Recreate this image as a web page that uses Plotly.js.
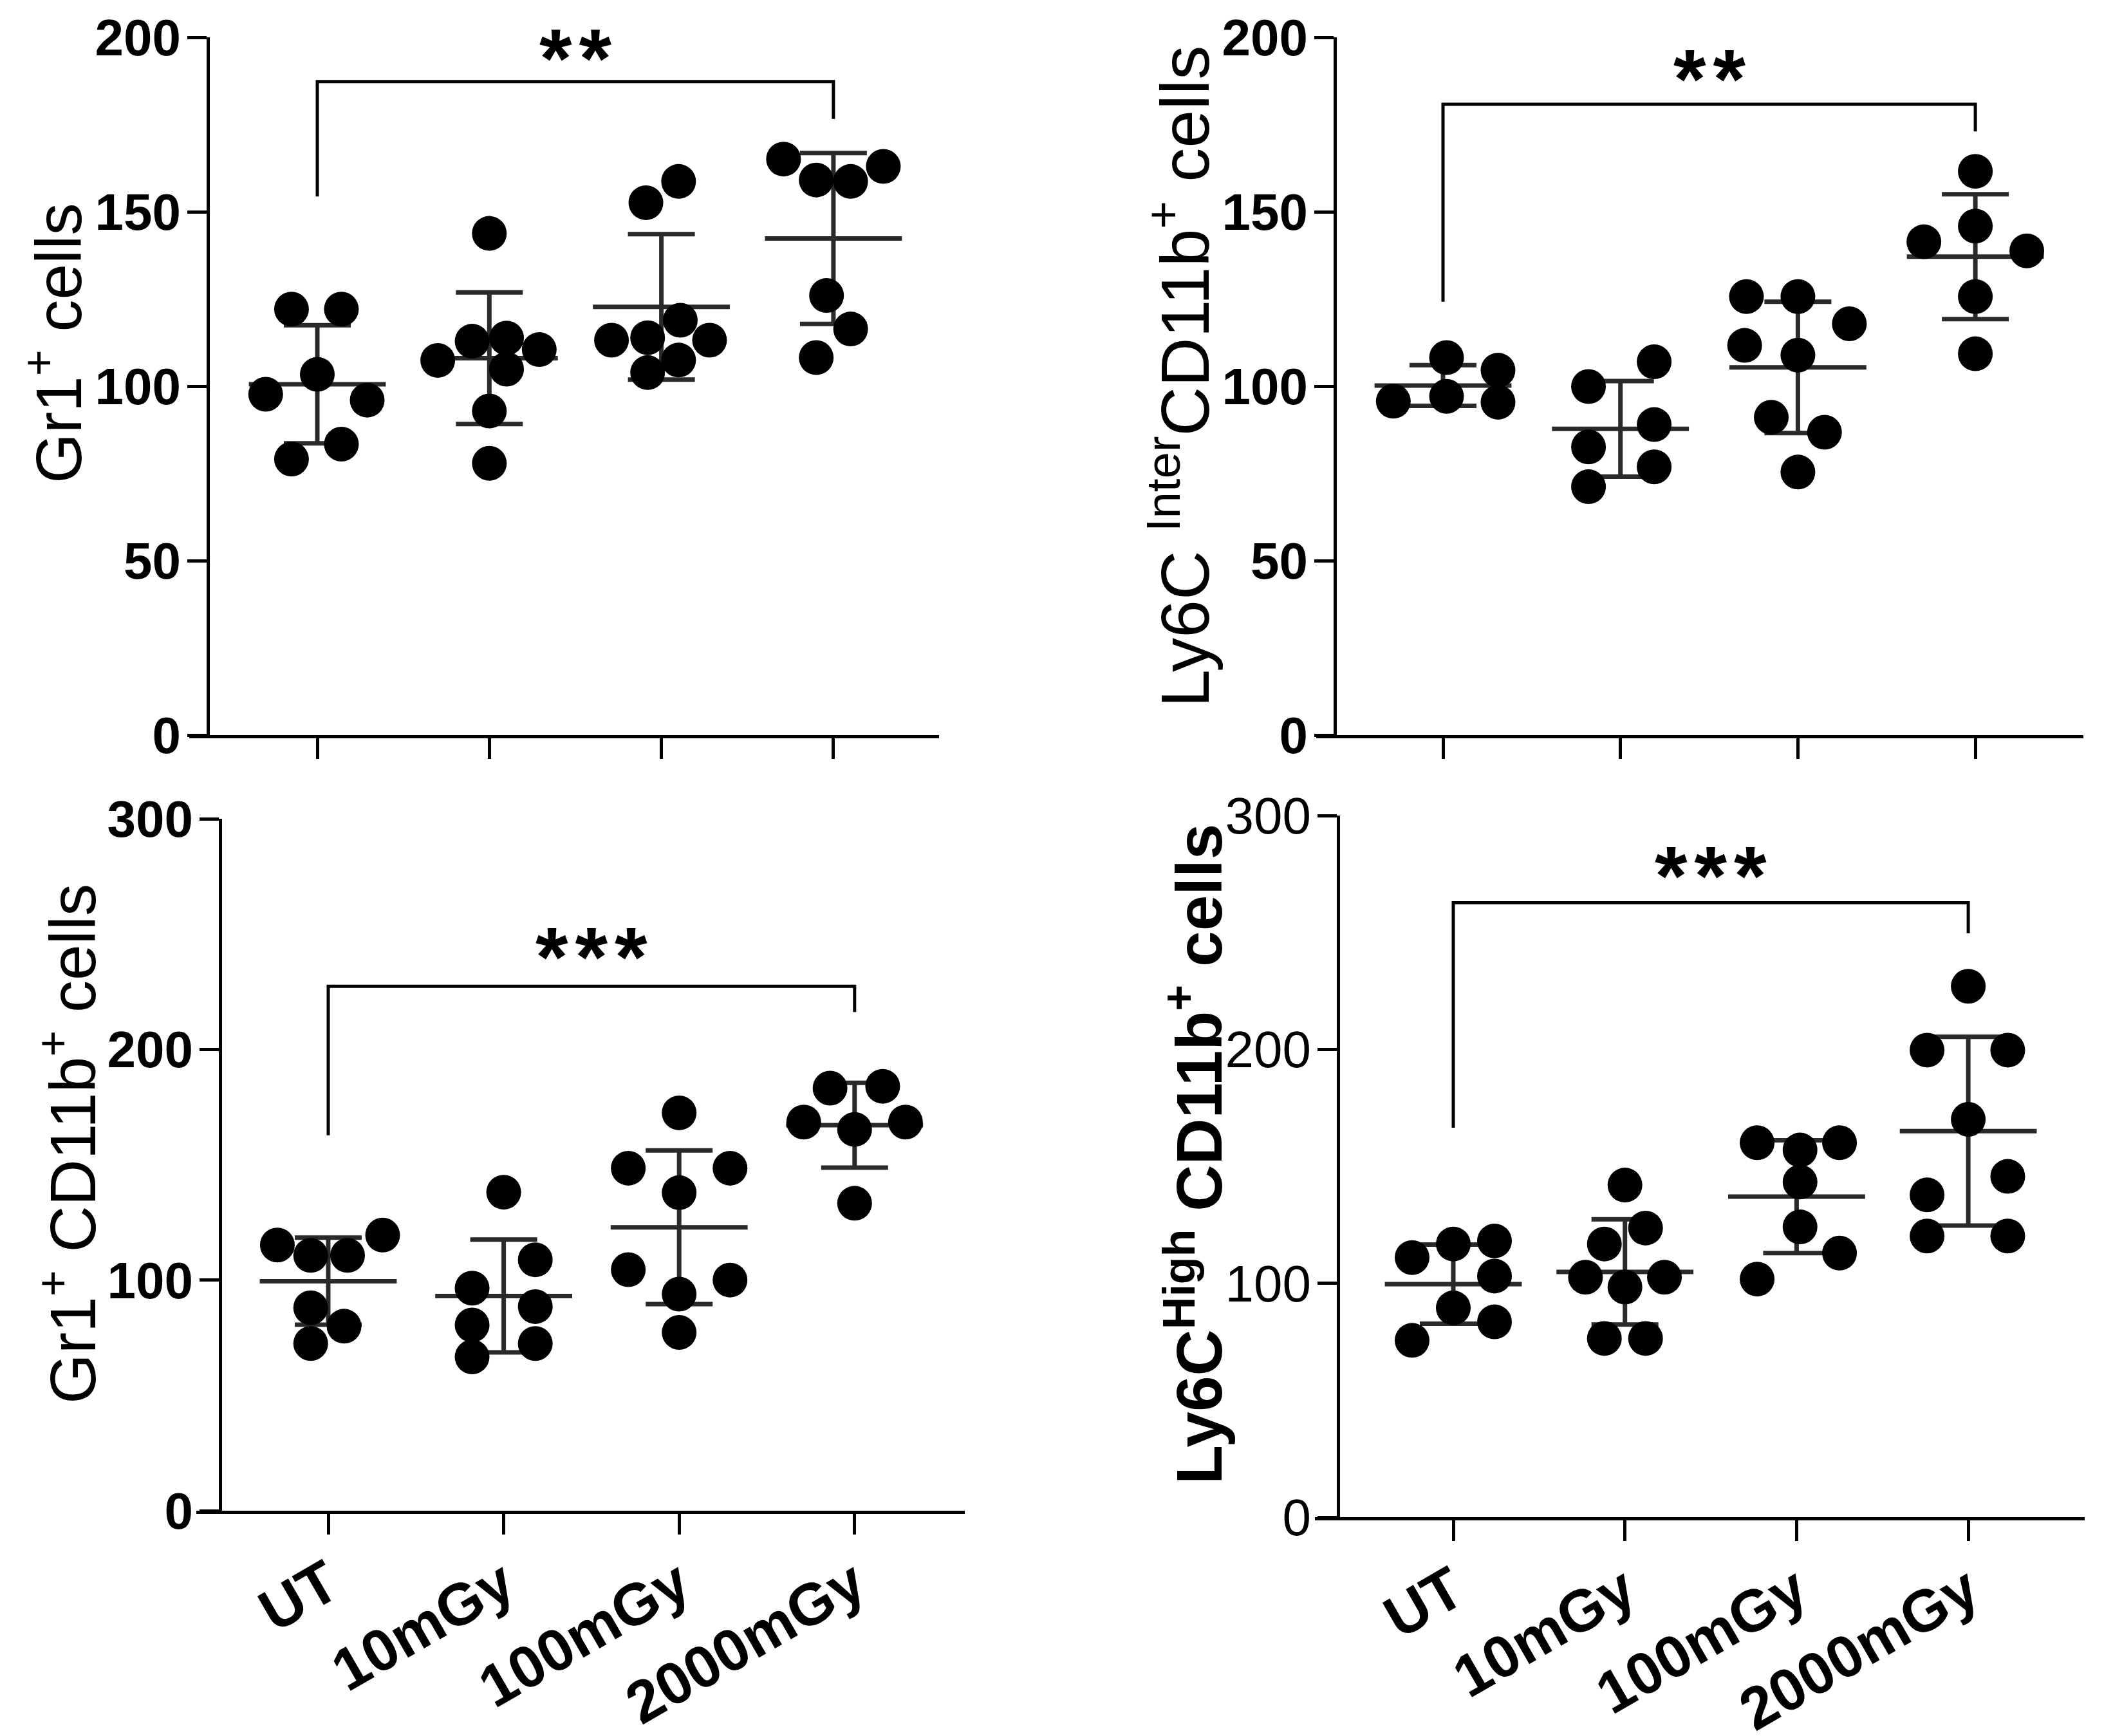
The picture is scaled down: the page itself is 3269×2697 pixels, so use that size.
<!DOCTYPE html>
<html>
<head>
<meta charset="utf-8">
<script src="https://cdn.plot.ly/plotly-3.0.1.min.js"></script>
<style>body{margin:0;background:#fff}</style>
</head>
<body>
<div id="chart" style="width:3269px;height:2697px"></div>
<script>
var groups = ['UT', '10mGy', '100mGy', '2000mGy'];

// Gr1+ cells (top left)
var gr1Values = [
  [122.1, 122.1, 103.4, 97.7, 96.0, 83.4, 79.1],
  [143.8, 112.9, 113.8, 110.5, 107.4, 104.9, 92.9, 77.9],
  [158.7, 152.6, 118.9, 113.2, 113.9, 113.2, 107.5, 103.9],
  [165.1, 163.0, 159.1, 158.7, 126.0, 116.4, 108.2]
];
var gr1Jitter = [
  [-0.15, 0.14, 0, -0.3, 0.29, 0.14, -0.15],
  [0, -0.1, 0.1, 0.29, -0.3, 0.1, 0, 0],
  [0.1, -0.09, 0.11, -0.29, -0.08, 0.28, 0.1, -0.08],
  [-0.29, 0.29, -0.1, 0.1, -0.04, 0.1, -0.1]
];
var gr1Bracket = [154.4, 187.3, 176.6];
var gr1Stars = ['**', 194];

// Ly6C Inter CD11b+ cells (top right)
var interValues = [
  [108.2, 104.6, 95.7, 97.1, 95.4],
  [107.0, 99.9, 89.0, 82.6, 76.9, 71.2],
  [125.7, 125.7, 117.9, 111.7, 108.9, 91.1, 86.8, 75.4],
  [161.6, 145.9, 141.4, 138.8, 125.7, 109.3]
];
var interJitter = [
  [0.02, 0.31, -0.28, 0.02, 0.31],
  [0.19, -0.18, 0.19, -0.18, 0.19, -0.18],
  [-0.29, 0, 0.29, -0.3, 0, -0.15, 0.15, 0],
  [0, 0, -0.29, 0.29, 0, 0]
];
var interBracket = [124.2, 180.8, 173];
var interStars = ['**', 188];

// Gr1+ CD11b+ cells (bottom left)
var gr1cdValues = [
  [119.5, 115.2, 110.7, 110.7, 88.0, 80.0, 72.5],
  [138.1, 108.8, 96.5, 88.5, 80.5, 72.5, 66.7],
  [172.5, 148.5, 148.5, 137.9, 104.5, 100.0, 93.9, 77.3],
  [183.2, 184.0, 168.5, 168.5, 165.3, 133.3]
];
var gr1cdJitter = [
  [0.31, -0.29, -0.1, 0.11, -0.1, 0.09, -0.1],
  [0, 0.18, -0.18, 0.18, -0.18, 0.18, -0.18],
  [0, -0.29, 0.29, 0, -0.29, 0.29, 0, 0],
  [-0.14, 0.16, -0.29, 0.29, 0, 0]
];
var gr1cdBracket = [162.8, 227.4, 216.2];
var gr1cdStars = ['***', 240];

// Ly6C High CD11b+ cells (bottom right)
var highValues = [
  [118.1, 116.8, 111.0, 103.1, 89.5, 83.5, 75.6],
  [142.0, 123.6, 116.8, 102.6, 98.4, 102.6, 76.4, 76.4],
  [160.1, 160.1, 157.0, 143.3, 124.1, 112.9, 101.8],
  [227.0, 199.7, 199.7, 170.1, 145.7, 137.8, 120.2, 120.2]
];
var highJitter = [
  [0.24, 0, -0.24, 0.24, 0, 0.24, -0.24],
  [0, 0.12, -0.12, -0.23, 0, 0.23, -0.12, 0.12],
  [-0.23, 0.25, 0.02, 0.02, 0.02, 0.25, -0.23],
  [0, -0.24, 0.23, 0, 0.23, -0.24, -0.24, 0.23]
];
var highBracket = [166.5, 262.7, 249.6];
var highStars = ['***', 274];

var W = 3269, H = 2697;
var FONT = 'Liberation Sans, Arial, sans-serif';

var panels = [
  {values: gr1Values, jitter: gr1Jitter, bracket: gr1Bracket, stars: gr1Stars,
   title: 'Gr1<sup>+</sup> cells', titleX: 84, titleY: 534, titleSize: 100, titleBold: false,
   axisX: 323, xStart: 294, xEnd: 1459, yTop: 58, yBottom: 1142, cat0: 493, step: 267.3,
   ymax: 200, dtick: 50, labels: false, tickBold: true},
  {values: interValues, jitter: interJitter, bracket: interBracket, stars: interStars,
   title: 'Ly6C <sup>Inter</sup>CD11b<sup>+</sup> cells', titleX: 1833, titleY: 585, titleSize: 106, titleBold: false,
   axisX: 2074, xStart: 2045, xEnd: 3237, yTop: 58, yBottom: 1142, cat0: 2242, step: 275.7,
   ymax: 200, dtick: 50, labels: false, tickBold: true},
  {values: gr1cdValues, jitter: gr1cdJitter, bracket: gr1cdBracket, stars: gr1cdStars,
   title: 'Gr1<sup>+</sup> CD11b<sup>+</sup> cells', titleX: 106, titleY: 1777, titleSize: 100, titleBold: false,
   axisX: 342, xStart: 305, xEnd: 1499, yTop: 1272, yBottom: 2347, cat0: 510, step: 272.6,
   ymax: 300, dtick: 100, labels: true, tickBold: true},
  {values: highValues, jitter: highJitter, bracket: highBracket, stars: highStars,
   title: 'Ly6C<sup>High</sup> CD11b<sup>+</sup> cells', titleX: 1856, titleY: 1793, titleSize: 100, titleBold: true,
   axisX: 2079, xStart: 2043, xEnd: 3239, yTop: 1267, yBottom: 2357, cat0: 2258, step: 266.7,
   ymax: 300, dtick: 100, labels: true, tickBold: false}
];

function mean(a) {
  var s = 0;
  for (var i = 0; i < a.length; i++) s += a[i];
  return s / a.length;
}
function sd(a) {
  var m = mean(a), s = 0;
  for (var i = 0; i < a.length; i++) s += (a[i] - m) * (a[i] - m);
  return Math.sqrt(s / (a.length - 1));
}

var data = [];
var annotations = [];
var layout = {
  width: W, height: H,
  margin: {l: 0, r: 0, t: 0, b: 0},
  paper_bgcolor: '#fff', plot_bgcolor: 'rgba(0,0,0,0)',
  showlegend: false,
  font: {family: FONT, color: '#000'}
};

for (var p = 0; p < panels.length; p++) {
  var c = panels[p];
  var n = p + 1;
  var xa = 'x' + n, ya = 'y' + n;

  // mean line + SD bars
  var means = [], sds = [];
  for (var g = 0; g < groups.length; g++) {
    means.push(mean(c.values[g]));
    sds.push(sd(c.values[g]));
  }
  data.push({
    x: [0, 1, 2, 3], y: means, xaxis: xa, yaxis: ya,
    type: 'scatter', mode: 'markers', cliponaxis: false,
    marker: {symbol: 'line-ew', size: 152, color: '#222', line: {width: 7, color: '#2a2a2a'}},
    error_y: {type: 'data', array: sds, visible: true, width: 52, thickness: 7, color: '#2a2a2a'},
    hoverinfo: 'skip'
  });

  // individual animals
  for (var g = 0; g < groups.length; g++) {
    var xs = [];
    for (var k = 0; k < c.values[g].length; k++) xs.push(g + c.jitter[g][k]);
    data.push({
      x: xs, y: c.values[g], xaxis: xa, yaxis: ya,
      type: 'scatter', mode: 'markers', cliponaxis: false,
      marker: {symbol: 'circle', size: 54, color: '#000'},
      name: groups[g]
    });
  }

  // significance bracket UT vs 2000mGy
  data.push({
    x: [0, 0, 3, 3], y: [c.bracket[0], c.bracket[1], c.bracket[1], c.bracket[2]],
    xaxis: xa, yaxis: ya, type: 'scatter', mode: 'lines', cliponaxis: false,
    line: {color: '#000', width: 5}, hoverinfo: 'skip'
  });
  annotations.push({
    x: 1.5, y: c.stars[1], xref: xa, yref: ya,
    text: c.stars[0].split('').join('\u200a'), showarrow: false,
    xanchor: 'center', yanchor: 'middle',
    font: {family: FONT, size: 130, weight: 700, color: '#000'}
  });

  annotations.push({
    x: c.titleX / W, y: 1 - c.titleY / H, xref: 'paper', yref: 'paper',
    text: c.title, textangle: -90, showarrow: false,
    xanchor: 'center', yanchor: 'middle',
    font: {family: FONT, size: c.titleSize, weight: c.titleBold ? 700 : 400, color: '#000'}
  });

  layout['xaxis' + (n === 1 ? '' : n)] = {
    domain: [c.xStart / W, c.xEnd / W],
    range: [(c.xStart - c.cat0) / c.step, (c.xEnd - c.cat0) / c.step],
    anchor: ya,
    showgrid: false, zeroline: false,
    showline: true, linecolor: '#000', linewidth: 5,
    ticks: 'outside', ticklen: 32, tickwidth: 5, tickcolor: '#000',
    tickvals: [0, 1, 2, 3], ticktext: groups,
    showticklabels: c.labels, tickangle: -30, ticklabelstandoff: -12,
    tickfont: {family: FONT, size: 92, weight: 700, color: '#000'}
  };
  layout['yaxis' + (n === 1 ? '' : n)] = {
    domain: [1 - c.yBottom / H, 1 - c.yTop / H],
    range: [0, c.ymax],
    anchor: 'free', position: c.axisX / W,
    showgrid: false, zeroline: false,
    showline: true, linecolor: '#000', linewidth: 5,
    ticks: 'outside', ticklen: 30, tickwidth: 5, tickcolor: '#000',
    tick0: 0, dtick: c.dtick, ticklabelstandoff: -6,
    tickfont: {family: FONT, size: 80, weight: c.tickBold ? 700 : 400, color: '#000'}
  };
}
layout.annotations = annotations;

Plotly.newPlot('chart', data, layout, {displayModeBar: false, staticPlot: true});
</script>
</body>
</html>
